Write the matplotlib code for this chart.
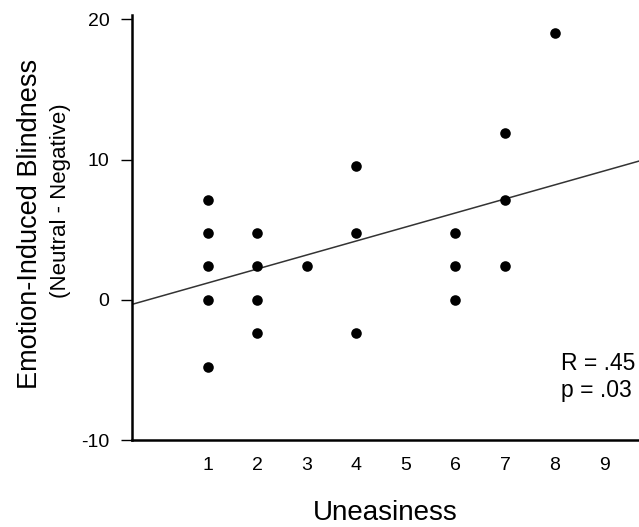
import numpy as np
import matplotlib
matplotlib.use("Agg")
import matplotlib.pyplot as plt

plt.rcParams['font.family'] = ['Liberation Sans', 'DejaVu Sans']
plt.rcParams['axes.unicode_minus'] = False

# uneasiness score for each participant, and blindness difference (%)
uneasiness = [1, 1, 1, 1, 1,
              2, 2, 2, 2,
              3,
              4, 4, 4,
              6, 6, 6,
              7, 7, 7,
              8]
blindness = [7.14, 4.76, 2.38, 0.0, -4.76,
             4.76, 2.38, 0.0, -2.38,
             2.38,
             9.52, 4.76, -2.38,
             4.76, 2.38, 0.0,
             11.9, 7.14, 2.38,
             19.05]

# regression line
fit_slope = 1.0
fit_intercept = 0.2

x_ticks = [1, 2, 3, 4, 5, 6, 7, 8, 9]
y_ticks = [-10, 0, 10, 20]

fig = plt.figure(figsize=(6.39, 5.27), dpi=100)
ax = fig.add_axes([0.206, 0.165, 0.794, 0.806])

ax.scatter(uneasiness, blindness, s=58, color='black', zorder=3, linewidths=0)

xmin, xmax = -0.53, 9.7
xs = np.array([xmin, xmax])
ax.plot(xs, fit_intercept + fit_slope * xs, color='#333333', linewidth=1.1)

ax.set_xlim(xmin, xmax)
ax.set_ylim(-10, 20.3)
ax.set_xticks(x_ticks)
ax.set_yticks(y_ticks)
ax.tick_params(axis='x', length=0, pad=12, labelsize=14)
ax.tick_params(axis='y', length=8, width=1, pad=8, labelsize=14)

for side in ['top', 'right']:
    ax.spines[side].set_visible(False)
for side in ['left', 'bottom']:
    ax.spines[side].set_linewidth(1.8)

ax.set_xlabel('Uneasiness', fontsize=20, labelpad=19)
fig.text(0.047, 0.576, 'Emotion-Induced Blindness', rotation=90,
         fontsize=19.5, ha='center', va='center')
fig.text(0.095, 0.619, '(Neutral - Negative)', rotation=90,
         fontsize=16, ha='center', va='center')

ax.text(8.12, -5.5, 'R = .45\np = .03', fontsize=16.5, ha='left', va='center',
        linespacing=1.2)

fig.savefig('out.png', dpi=100)
